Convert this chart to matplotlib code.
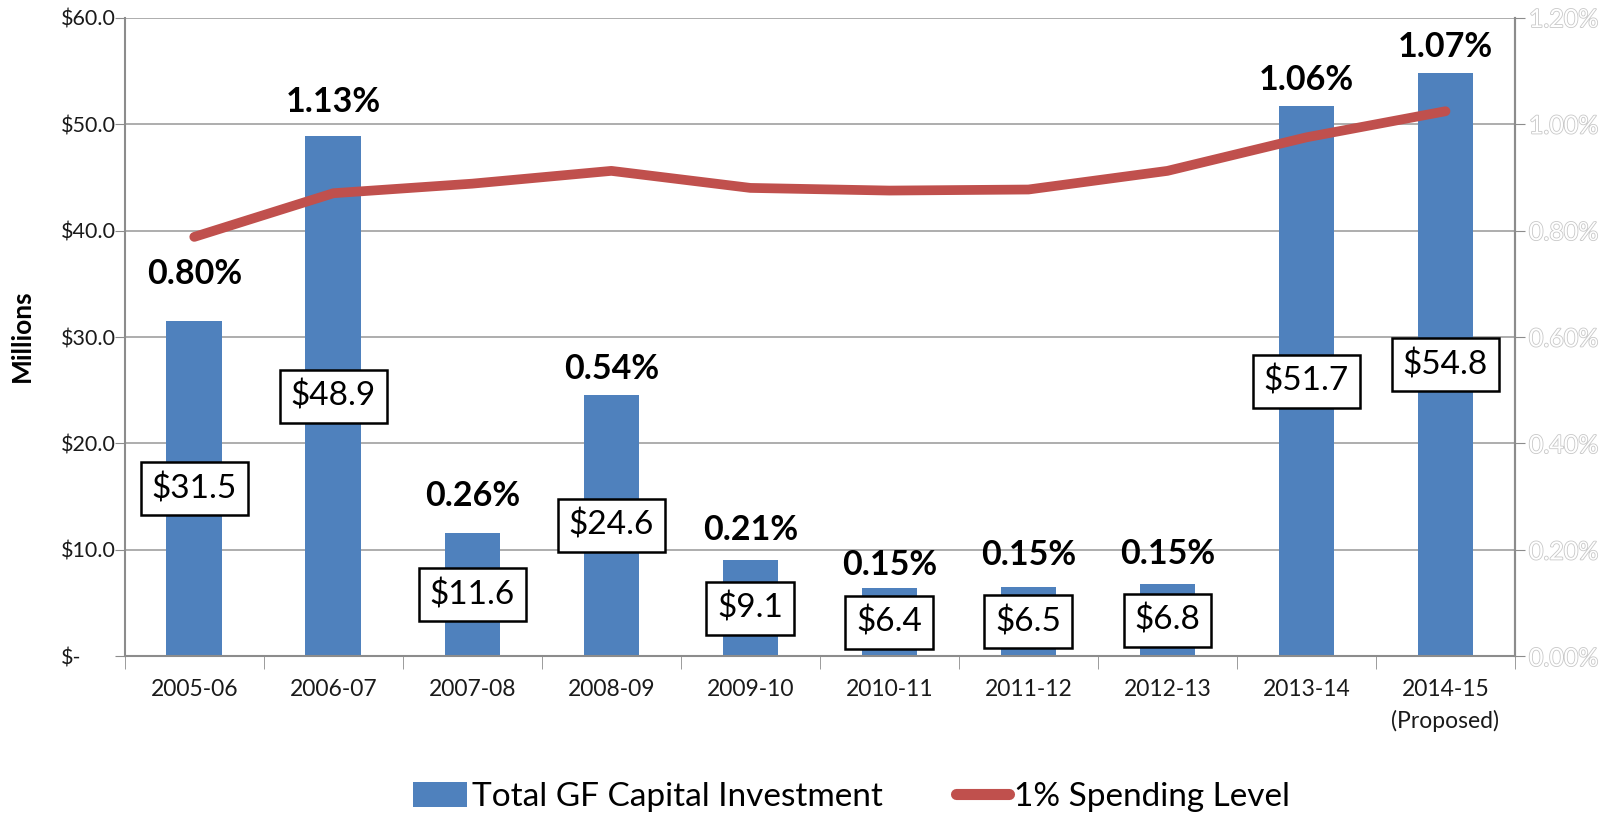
import matplotlib.pyplot as plt
import matplotlib.patheffects as pe
from matplotlib.lines import Line2D
from matplotlib.patches import Patch
import numpy as np

plt.rcParams['font.family'] = ['Lato', 'DejaVu Sans']

# data
years = ["2005-06", "2006-07", "2007-08", "2008-09", "2009-10",
         "2010-11", "2011-12", "2012-13", "2013-14", "2014-15\n(Proposed)"]
invest = [31.5, 48.9, 11.6, 24.6, 9.1, 6.4, 6.5, 6.8, 51.7, 54.8]
invest_pct = ["0.80%", "1.13%", "0.26%", "0.54%", "0.21%",
              "0.15%", "0.15%", "0.15%", "1.06%", "1.07%"]
spend_level = [0.788, 0.870, 0.888, 0.912, 0.880, 0.875, 0.877, 0.912, 0.975, 1.024]

# label offsets above bars (points)
pct_dy = [22, 13, 15, 7, 10, 5, 12, 10, 7, 7]

blue = "#4F81BD"
red = "#C0504D"
gray = "#8C8C8C"

fig = plt.figure(figsize=(16.16, 8.15), dpi=100)
ax = fig.add_axes([0.0772, 0.1945, 0.8603, 0.784])

x = np.arange(len(years))
ax.bar(x, invest, width=0.4, color=blue, zorder=2)

ax.set_xlim(-0.5, len(years) - 0.5)
ax.set_ylim(0, 60)
ax.set_yticks(np.arange(0, 61, 10))
ax.set_yticklabels(["$-"] + ["$%.1f" % v for v in np.arange(10, 61, 10)],
                   ha="left", fontsize=15.5, color="#1a1a1a")
ax.tick_params(axis="y", length=7, color=gray, pad=39)
ax.grid(axis="y", color="#A0A0A0", linewidth=1.2, zorder=0)

ax.set_xticks(x)
ax.set_xticklabels(years, fontsize=16.5, color="#1a1a1a", linespacing=1.55)
ax.set_xticks(np.arange(-0.5, len(years), 1), minor=True)
ax.tick_params(axis="x", which="major", length=0, pad=16)
ax.tick_params(axis="x", which="minor", length=9, color=gray)

ax.spines["top"].set_visible(False)
for s in ["left", "right", "bottom"]:
    ax.spines[s].set_color(gray)
    ax.spines[s].set_linewidth(1.5)

# value boxes in the middle of bars
for xi, v in zip(x, invest):
    ax.text(xi, v / 2, "$%.1f" % v, ha="center", va="center", fontsize=24,
            color="black", zorder=4,
            bbox=dict(boxstyle="square,pad=0.33", fc="white", ec="black", lw=1.8))

# percent labels above bars
for xi, v, lab, dy in zip(x, invest, invest_pct, pct_dy):
    ax.annotate(lab, (xi, v), xytext=(0, dy), textcoords="offset points",
                ha="center", va="bottom", fontsize=24.5, fontweight="bold", zorder=4)

ax2 = ax.twinx()
ax2.plot(x, spend_level, color=red, linewidth=7, solid_capstyle="round",
         solid_joinstyle="round", zorder=3)
ax2.set_ylim(0, 1.2)
ax2.set_yticks(np.arange(0, 1.21, 0.2))
rlabels = ax2.set_yticklabels(["%.2f%%" % v for v in np.arange(0, 1.21, 0.2)],
                              fontsize=18, color="white")
for t in rlabels:
    t.set_path_effects([pe.withStroke(linewidth=1.2, foreground="#C8C8C8")])
ax2.tick_params(axis="y", length=7, color=gray, pad=3)
for s in ["top", "left", "bottom"]:
    ax2.spines[s].set_visible(False)
ax2.spines["right"].set_color(gray)
ax2.spines["right"].set_linewidth(1.5)

fig.text(0.0135, 1 - 336 / 815, "Millions", rotation=90, ha="center", va="center",
         fontsize=19, fontweight="bold")

handles = [Patch(facecolor=blue, edgecolor="none"),
           Line2D([], [], color=red, linewidth=8, solid_capstyle="round")]
fig.legend(handles, ["Total GF Capital Investment", "1% Spending Level"],
           loc="center", bbox_to_anchor=(0.527, 1 - 797 / 815), ncol=2, frameon=False,
           fontsize=24, handlelength=1.6, handleheight=0.75, handletextpad=0.15,
           columnspacing=2.2)

fig.savefig("out.png", dpi=100)
